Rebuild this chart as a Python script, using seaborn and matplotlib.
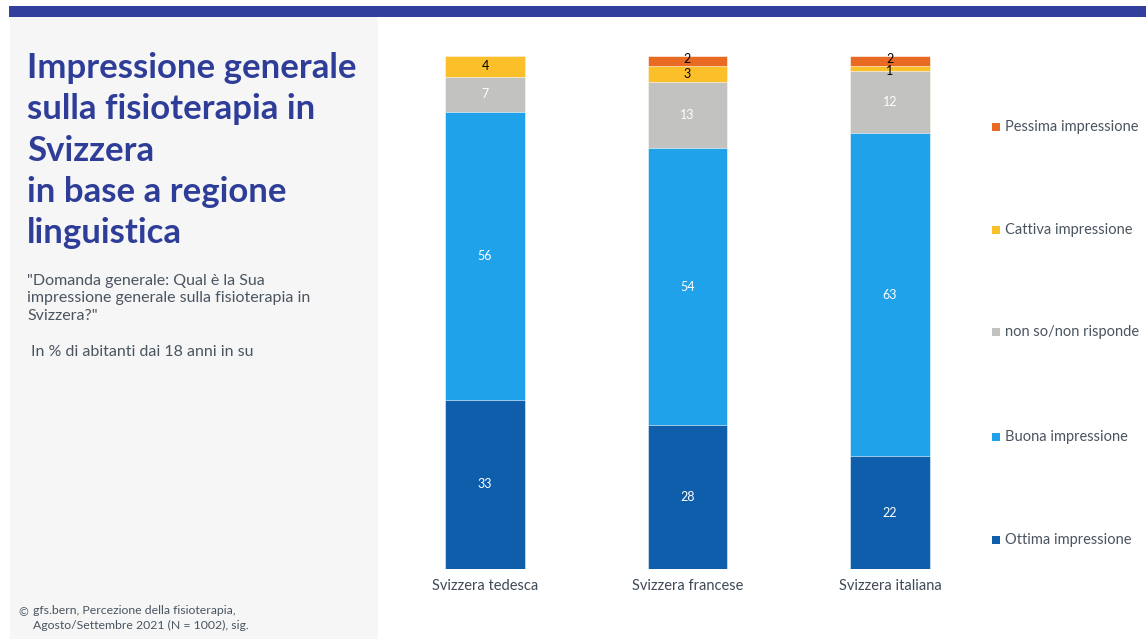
import numpy as np
import pandas as pd
import matplotlib
matplotlib.use("Agg")
import matplotlib.pyplot as plt
from matplotlib.patches import Rectangle
import seaborn as sns

regions = ["Svizzera tedesca", "Svizzera francese", "Svizzera italiana"]
ottima = [33, 28, 22]
buona = [56, 54, 63]
non_so = [7, 13, 12]
cattiva = [4, 3, 1]
pessima = [0, 2, 2]

series_names = ["Ottima impressione", "Buona impressione", "non so/non risponde",
                "Cattiva impressione", "Pessima impressione"]
series_values = [ottima, buona, non_so, cattiva, pessima]
series_colors = ["#0E5EAB", "#1FA2EA", "#C2C2C0", "#FBBF2A", "#E96B23"]
label_colors = ["white", "white", "white", "black", "black"]

sns.set_theme(style="white")
plt.rcParams["font.family"] = ["Lato", "DejaVu Sans"]

W, H = 1146, 639
fig = plt.figure(figsize=(W / 100, H / 100), dpi=100)
fig.patch.set_facecolor("white")

def fx(px):
    return px / W

def fy(py):
    return 1 - py / H

# top band and left panel
fig.add_artist(Rectangle((fx(9), fy(17)), fx(W - 9), 11 / H, transform=fig.transFigure,
                         facecolor="#323F9C", edgecolor="none"))
fig.add_artist(Rectangle((fx(10), 0), fx(368), fy(17), transform=fig.transFigure,
                         facecolor="#F6F6F6", edgecolor="none"))

# stacked bars: cumulative totals drawn from the top layer down
df = pd.DataFrame({name: vals for name, vals in zip(series_names, series_values)}, index=regions)
cum = df.cumsum(axis=1)

ax_left, ax_right = 400, 980
spacing = 202.5
x0 = (ax_left - 485) / spacing
x1 = 2 + (ax_right - 890) / spacing
ax = fig.add_axes([fx(ax_left), fy(569), fx(ax_right - ax_left), (569 - 56) / H])
ax.set_facecolor("none")

for name, color in reversed(list(zip(series_names, series_colors))):
    sns.barplot(x=regions, y=cum[name].values, color=color, width=0.395,
                saturation=1, ax=ax, edgecolor="white", linewidth=0.4)

ax.set_xlim(x0, x1)
ax.set_ylim(0, 100)
for s in ax.spines.values():
    s.set_visible(False)
ax.set_yticks([])
ax.set_ylabel("")
ax.tick_params(axis="x", length=0, pad=7, labelsize=10.5, labelcolor="#3E4A57")

# segment value labels; thin top segments get their labels spread apart a little
for i, reg in enumerate(regions):
    bottom = 0
    for k, (name, lc) in enumerate(zip(series_names, label_colors)):
        v = df.loc[reg, name]
        if v > 0:
            y = bottom + v / 2
            if v <= 2 and k == 3:
                y -= 0.5
            elif v <= 2 and k == 4:
                y += 0.4
            ax.text(i, y, f"{v}", ha="center", va="center",
                    color=lc, fontsize=9)
        bottom += v

# legend entries
legend_y = [127, 230, 332, 437, 540]
for name, color, y in zip(reversed(series_names), reversed(series_colors), legend_y):
    fig.add_artist(Rectangle((fx(992), fy(y) - 4 / H), 8 / W, 8 / H, transform=fig.transFigure,
                             facecolor=color, edgecolor="none"))
    fig.text(fx(1005), fy(y), name, ha="left", va="center", fontsize=10.5,
             color="#4A5560")

# left panel text
fig.text(fx(27), fy(52), "Impressione generale\nsulla fisioterapia in\nSvizzera\nin base a regione\nlinguistica",
         ha="left", va="top", fontsize=25, fontweight="bold", color="#2E3D98",
         linespacing=1.36)
fig.text(fx(27), fy(274), "\"Domanda generale: Qual è la Sua\nimpressione generale sulla fisioterapia in\nSvizzera?\"",
         ha="left", va="top", fontsize=11.5, color="#4A5560", linespacing=1.3)
fig.text(fx(31), fy(352), "In % di abitanti dai 18 anni in su", ha="left", va="center",
         fontsize=11.5, color="#4A5560")
fig.text(fx(18), fy(613), "©", ha="left", va="center", fontsize=8.5, color="#4A5560")
fig.text(fx(33), fy(605), "gfs.bern, Percezione della fisioterapia,\nAgosto/Settembre 2021 (N = 1002), sig.",
         ha="left", va="top", fontsize=8.8, color="#4A5560", linespacing=1.4)

fig.savefig("out.png", dpi=100, facecolor="white")
